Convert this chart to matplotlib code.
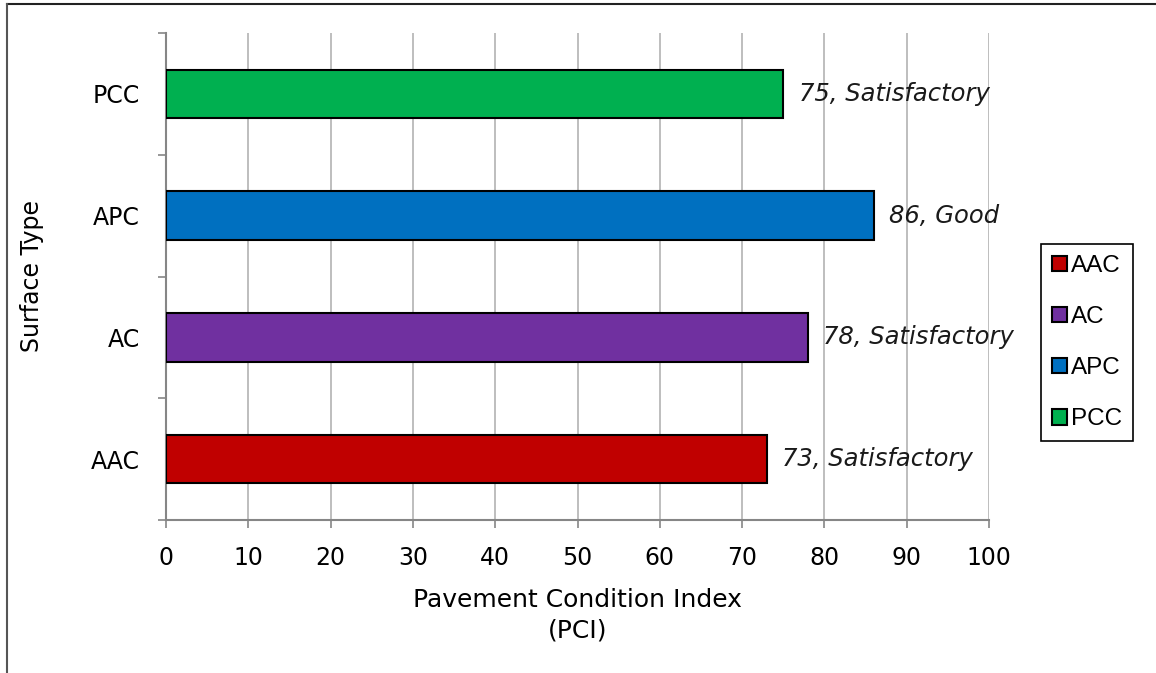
import matplotlib.pyplot as plt
from matplotlib.lines import Line2D

# PCI by surface type
surfaces = ["AAC", "AC", "APC", "PCC"]
pci = [73, 78, 86, 75]
ratings = ["Satisfactory", "Satisfactory", "Good", "Satisfactory"]
colors = ["#C00000", "#7030A0", "#0070C0", "#00B050"]
xticks = [0, 10, 20, 30, 40, 50, 60, 70, 80, 90, 100]

plt.rcParams['font.family'] = ['DejaVu Sans']

fig = plt.figure(figsize=(11.56, 6.73), dpi=100)
ax = fig.add_axes([166/1156, 1 - 520/673, (989 - 166)/1156, (520 - 33)/673])

for i in range(len(surfaces)):
    ax.barh(i, pci[i], height=0.4, color=colors[i], edgecolor="black",
            linewidth=1.5, label=surfaces[i], zorder=3)
    ax.annotate(f"{pci[i]}, {ratings[i]}", (pci[i], i), xytext=(11, 0),
                textcoords="offset points", va="center", ha="left",
                fontsize=17.5, style="italic", color="#1a1a1a", zorder=4)

ax.set_xlim(0, 100)
ax.set_ylim(-0.5, len(surfaces) - 0.5)
ax.set_xticks(xticks)
ax.tick_params(axis="x", labelsize=17, length=6, width=1.2, color="#868686",
               pad=13, direction="out")

# category labels sit between the boundary tick marks
ax.set_yticks([i - 0.5 for i in range(len(surfaces) + 1)])
ax.set_yticklabels([])
ax.set_yticks(range(len(surfaces)), minor=True)
ax.set_yticklabels(surfaces, minor=True)
ax.tick_params(axis="y", which="major", length=6, width=1.2, color="#868686")
ax.tick_params(axis="y", which="minor", length=0, labelsize=17, pad=19)

ax.grid(axis="x", color="#b3b3b3", linewidth=1.2, zorder=0)
for side in ["top", "right"]:
    ax.spines[side].set_visible(False)
for side in ["left", "bottom"]:
    ax.spines[side].set_color("#868686")
    ax.spines[side].set_linewidth(1.5)

ax.set_xlabel("Pavement Condition Index\n(PCI)", fontsize=18, linespacing=1.35)
ax.xaxis.set_label_coords(0.5, -0.14)
ax.set_ylabel("Surface Type", fontsize=17)
ax.yaxis.set_label_coords(-0.148, 0.5)

leg = fig.legend(loc="upper left", bbox_to_anchor=(1041/1156, 1 - 244/673),
                 bbox_transform=fig.transFigure, borderaxespad=0,
                 prop={"family": "Liberation Sans", "size": 17.5},
                 handlelength=0.6, handleheight=0.6, handletextpad=0.2,
                 labelspacing=1.2, borderpad=0.45, fancybox=False,
                 edgecolor="black", framealpha=1)
leg.get_frame().set_linewidth(1.2)

# outer frame lines along the top and left edge
fig.add_artist(Line2D([7/1156, 1], [1 - 4/673, 1 - 4/673], color="#222222",
                      linewidth=1.5, transform=fig.transFigure))
fig.add_artist(Line2D([7/1156, 7/1156], [0, 1 - 4/673], color="#555555",
                      linewidth=1.5, transform=fig.transFigure))

fig.savefig("out.png", dpi=100)
